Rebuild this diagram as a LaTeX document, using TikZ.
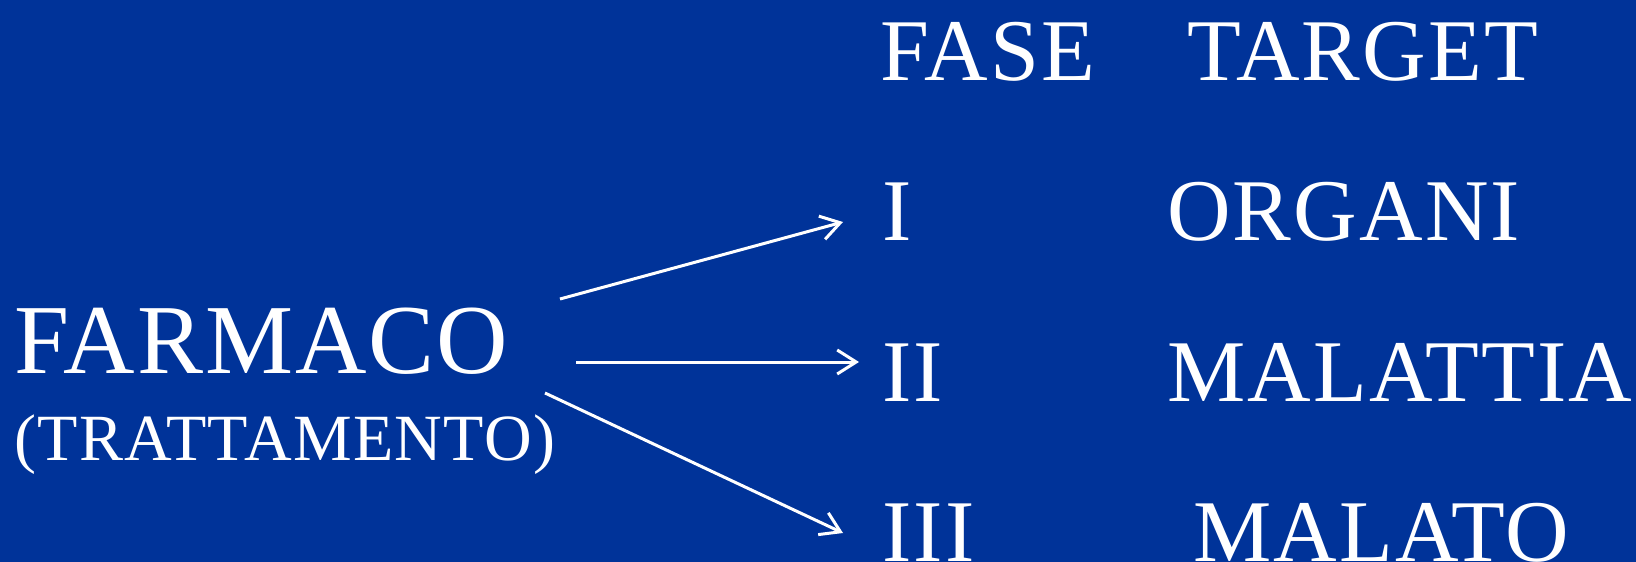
\documentclass[tikz,border=0pt]{standalone}
\usepackage{fontspec}
\setmainfont{Liberation Serif}
\usetikzlibrary{arrows.meta,positioning}
\definecolor{slideblue}{RGB}{0,51,153}
\tikzset{
  lbl/.style={anchor=base west, inner sep=0pt, text=white,
              font=\fontsize{88}{88}\selectfont\addfontfeature{LetterSpace=2.5}},
  drug/.style={anchor=base west, inner sep=0pt, text=white,
               font=\fontsize{99}{99}\selectfont\addfontfeature{LetterSpace=2}},
  drugsub/.style={anchor=base west, inner sep=0pt, text=white,
                  font=\fontsize{66}{66}\selectfont\addfontfeature{LetterSpace=2}},
  arr/.style={-{Straight Barb[length=19pt,width=24pt]}, white, line width=3pt},
}

\begin{document}
\begin{tikzpicture}[x=1pt, y=-1pt]
  \fill[slideblue] (0,0) rectangle (1636,562);
  \useasboundingbox (0,0) rectangle (1636,562);
  % left: drug
  \node[drug] (farmaco) at (14,373) {FARMACO};
  \node[drugsub] (tratt) at (14,460) {(TRATTAMENTO)};
  % header
  \node[lbl] (fase) at (880,80) {FASE};
  \node[lbl] (target) at (1187,80) {TARGET};
  % rows
  \node[lbl] (f1) at (882,240) {I};
  \node[lbl] (t1) at (1167,240) {ORGANI};
  \node[lbl] (f2) at (882,401) {II};
  \node[lbl] (t2) at (1167,401) {MALATTIA};
  \node[lbl] (f3) at (882,561) {III};
  \node[lbl] (t3) at (1193,561) {MALATO};
  % arrows
  \coordinate (s1) at (560,299);
  \coordinate (s2) at (576,362);
  \coordinate (s3) at (545,393);
  \coordinate (e1) at (843,222);
  \coordinate (e2) at (859,362);
  \coordinate (e3) at (843,533);
  \draw[arr] (s1) -- (e1);
  \draw[arr] (s2) -- (e2);
  \draw[arr] (s3) -- (e3);
\end{tikzpicture}
\end{document}
